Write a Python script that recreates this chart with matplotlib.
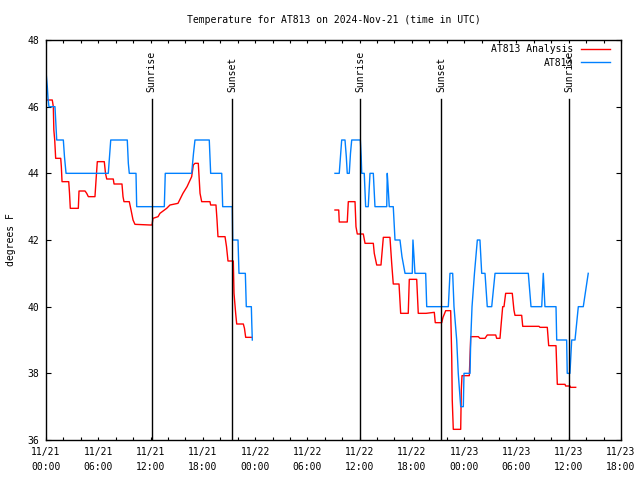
import datetime as dt
import numpy as np
import matplotlib
matplotlib.use("Agg")
import matplotlib.pyplot as plt
import matplotlib.dates as mdates
from matplotlib.transforms import blended_transform_factory

plt.rcParams['font.family'] = ['DejaVu Sans Mono']

title = "Temperature for AT813 on 2024-Nov-21 (time in UTC)"
ylabel = "degrees F"
start = dt.datetime(2024, 11, 21, 0, 0)
end = dt.datetime(2024, 11, 23, 18, 0)

# hours since 2024-11-21 00:00 UTC
obs_hours_1 = [0.0, 0.15, 0.23, 0.34, 1.03, 1.23, 1.99, 2.12, 2.30, 7.15, 7.43, 9.33, 9.45,
               9.56, 10.33, 10.41, 13.58, 13.69, 16.72, 16.93, 17.10, 18.74, 18.90, 20.17,
               20.28, 21.38, 21.43, 22.04, 22.15, 22.88, 22.99, 23.57, 23.62, 23.68]
obs_temp_1 = [47.05, 46.6, 46.25, 46.0, 46.0, 45.0, 45.0, 44.5, 44.0, 44.0, 45.0, 45.0, 44.3,
              44.0, 44.0, 43.0, 43.0, 44.0, 44.0, 44.6, 45.0, 45.0, 44.0, 44.0,
              43.0, 43.0, 42.0, 42.0, 41.0, 41.0, 40.0, 40.0, 39.5, 39.0]

obs_hours_2 = [33.17, 33.66, 33.80, 33.94, 34.32, 34.47, 34.58, 34.81, 34.95, 35.09, 36.08,
               36.18, 36.24, 36.53, 36.69, 36.99, 37.19, 37.57, 37.76, 39.11, 39.17, 39.29,
               39.40, 39.86, 40.06, 40.63, 40.86, 41.21, 42.04, 42.12, 42.24, 42.35, 43.58,
               43.70, 46.18, 46.37, 46.68, 46.83, 47.14, 47.32, 47.60, 47.90, 47.98, 48.67,
               48.75, 48.90, 49.18, 49.51, 49.81, 50.01, 50.39, 50.65, 51.16, 51.54, 55.36,
               55.67, 56.90, 57.08, 57.27, 58.54, 58.62, 59.76, 59.83, 60.14, 60.34, 60.72,
               61.10, 61.67, 62.24]
obs_temp_2 = [44.0, 44.0, 44.5, 45.0, 45.0, 44.5, 44.0, 44.0, 44.6, 45.0, 45.0,
              44.5, 44.0, 44.0, 43.0, 43.0, 44.0, 44.0, 43.0, 43.0, 44.0, 43.5,
              43.0, 43.0, 42.0, 42.0, 41.5, 41.0, 41.0, 42.0, 41.5, 41.0, 41.0,
              40.0, 40.0, 41.0, 41.0, 40.0, 39.0, 38.0, 37.0, 37.0, 38.0, 38.0,
              39.0, 40.0, 41.0, 42.0, 42.0, 41.0, 41.0, 40.0, 40.0, 41.0, 41.0,
              40.0, 40.0, 41.0, 40.0, 40.0, 39.0, 39.0, 38.0, 38.0, 39.0, 39.0,
              40.0, 40.0, 41.0]

ana_hours_1 = [0.0, 0.72, 0.84, 0.90, 1.00, 1.11, 1.69, 1.76, 1.84, 2.61, 2.70, 2.79, 3.71,
               3.79, 4.48, 4.67, 4.86, 5.62, 5.77, 5.89, 6.69, 6.83, 6.97, 7.72, 7.81, 8.72,
               8.84, 8.95, 9.56, 9.76, 9.99, 10.21, 11.94, 12.17, 12.28, 12.86, 13.08, 13.85,
               14.23, 15.15, 15.72, 16.19, 16.72, 16.91, 17.10, 17.48, 17.68, 17.87, 18.82,
               18.90, 19.51, 19.63, 19.74, 20.55, 20.72, 20.89, 21.50, 21.58, 21.77, 21.89,
               22.65, 22.78, 22.92, 23.61]
ana_temp_1 = [46.2, 46.2, 46.0, 45.3, 45.0, 44.45, 44.45, 44.2, 43.75, 43.75, 43.4, 42.95, 42.95,
              43.47, 43.47, 43.4, 43.3, 43.3, 43.9, 44.35, 44.35, 44.0, 43.83, 43.83, 43.68, 43.68,
              43.3, 43.15, 43.15, 42.9, 42.6, 42.47, 42.45, 42.45, 42.65, 42.7, 42.8, 42.95,
              43.05, 43.1, 43.4, 43.6, 43.9, 44.25, 44.3, 44.3, 43.4, 43.15, 43.15,
              43.05, 43.05, 42.6, 42.1, 42.1, 41.8, 41.37, 41.37, 40.4, 39.8, 39.48,
              39.48, 39.35, 39.08, 39.08]

ana_hours_2 = [33.17, 33.60, 33.66, 34.58, 34.70, 35.47, 35.58, 35.73, 36.42, 36.62, 37.57,
               37.68, 37.96, 38.45, 38.72, 39.48, 39.68, 39.86, 40.52, 40.71, 41.58, 41.70,
               42.55, 42.73, 43.62, 44.57, 44.68, 45.42, 45.57, 45.88, 46.45, 46.57, 46.63,
               46.75, 47.60, 47.67, 47.75, 48.59, 48.75, 49.62, 49.81, 50.39, 50.65, 51.62,
               51.73, 52.11, 52.22, 52.42, 52.57, 52.76, 53.52, 53.71, 53.83, 54.60, 54.72,
               56.59, 56.70, 57.54, 57.70, 58.54, 58.69, 59.57, 59.65, 60.14, 60.20, 60.80]
ana_temp_2 = [42.9, 42.9, 42.54, 42.54, 43.15, 43.15, 42.4, 42.18, 42.18, 41.9, 41.9,
              41.6, 41.25, 41.25, 42.08, 42.08, 41.3, 40.68, 40.68, 39.8, 39.8, 40.82,
              40.82, 39.8, 39.8, 39.83, 39.52, 39.52, 39.68, 39.88, 39.88, 38.5, 37.2,
              36.32, 36.32, 37.5, 37.93, 37.93, 39.1, 39.1, 39.05, 39.05, 39.15, 39.15,
              39.05, 39.05, 39.4, 40.0, 40.0, 40.4, 40.4, 39.9, 39.74, 39.74, 39.41,
              39.41, 39.38, 39.38, 38.83, 38.83, 37.67, 37.67, 37.62, 37.62, 37.58, 37.58]

sun_events = ["2024-11-21 12:08", "2024-11-21 21:23", "2024-11-22 12:05",
              "2024-11-22 21:22", "2024-11-23 12:04"]
sun_labels = ["Sunrise", "Sunset", "Sunrise", "Sunset", "Sunrise"]

y_ticks = [36, 38, 40, 42, 44, 46, 48]


def to_time(hours):
    return [start + dt.timedelta(hours=h) for h in hours]


fig = plt.figure(figsize=(6.4, 4.8), dpi=100)
ax = fig.add_axes([46 / 640, 40 / 480, 575 / 640, 400 / 480])

red = '#ff0000'
blue = '#0080ff'
ax.plot(to_time(ana_hours_1), ana_temp_1, color=red, lw=1.0, label='AT813 Analysis')
ax.plot(to_time(ana_hours_2), ana_temp_2, color=red, lw=1.0)
ax.plot(to_time(obs_hours_1), obs_temp_1, color=blue, lw=1.0, label='AT813')
ax.plot(to_time(obs_hours_2), obs_temp_2, color=blue, lw=1.0)

trans = blended_transform_factory(ax.transData, ax.transAxes)
for s, lab in zip(sun_events, sun_labels):
    t = dt.datetime.strptime(s, "%Y-%m-%d %H:%M")
    ax.axvline(t, ymin=0, ymax=0.852, color='black', lw=1.0)
    ax.text(t, 0.871, lab, rotation=90, ha='center', va='bottom', fontsize=7,
            transform=trans)

ax.set_xlim(start, end)
ax.set_ylim(36, 48)
ax.set_yticks(y_ticks)
ax.xaxis.set_major_locator(mdates.HourLocator(byhour=[0, 6, 12, 18]))
ax.xaxis.set_minor_locator(mdates.HourLocator(byhour=list(range(0, 24, 2))))
ax.xaxis.set_major_formatter(mdates.DateFormatter('%m/%d\n%H:%M'))

ax.tick_params(axis='x', which='both', direction='in', top=True, bottom=True,
               length=2.5, width=0.8, labelsize=7, pad=5)
ax.tick_params(axis='y', which='both', direction='in', left=True, right=True,
               length=3.5, width=0.8, labelsize=7, pad=5)
for lab in ax.get_xticklabels():
    lab.set_linespacing(1.6)
for sp in ax.spines.values():
    sp.set_linewidth(1.0)

ax.set_title(title, fontsize=7, pad=12)
ax.set_ylabel(ylabel, fontsize=7, labelpad=8)

leg = ax.legend(loc='upper right', bbox_to_anchor=(0.981, 0.99), frameon=False,
                markerfirst=False, fontsize=7, handlelength=3.0, handletextpad=0.8,
                borderpad=0, borderaxespad=0, labelspacing=0.4)

fig.savefig('out.png', dpi=100)
